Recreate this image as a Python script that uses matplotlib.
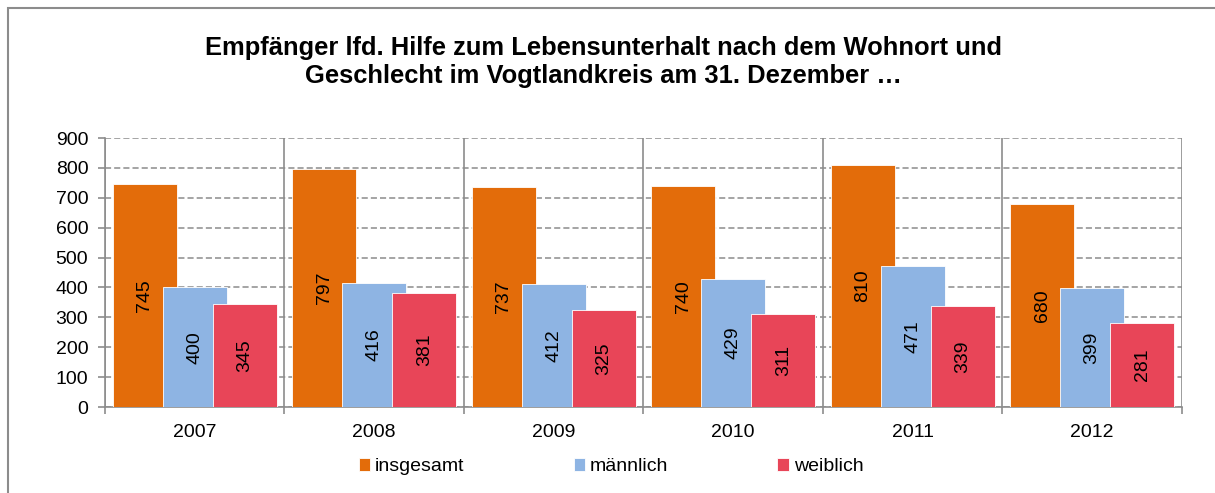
import numpy as np
import matplotlib.pyplot as plt
from matplotlib.patches import Rectangle

plt.rcParams['font.family'] = ['Liberation Sans', 'DejaVu Sans']

years = ['2007', '2008', '2009', '2010', '2011', '2012']
insgesamt = [745, 797, 737, 740, 810, 680]
maennlich = [400, 416, 412, 429, 471, 399]
weiblich = [345, 381, 325, 311, 339, 281]
series_names = ['insgesamt', 'männlich', 'weiblich']
colors = ['#E36C0A', '#8EB4E3', '#E84558']

fig = plt.figure(figsize=(12.15, 4.93), dpi=100)
ax = fig.add_axes([0.0864, 0.1744, 0.8864, 0.5456])

x = np.arange(len(years))
width = 0.357
offset = 0.279
gray = '#8c8c8c'

for i, (vals, name, c) in enumerate(zip([insgesamt, maennlich, weiblich], series_names, colors)):
    pos = x + (i - 1) * offset
    ax.bar(pos, vals, width, color=c, edgecolor='white', linewidth=0.6,
           label=name, zorder=3 + i)
    for p, v in zip(pos, vals):
        ax.text(p, v / 2, str(v), rotation=90, ha='center', va='center',
                fontsize=14, color='black', zorder=10)

ax.set_xlim(-0.5, len(years) - 0.5)
ax.set_ylim(0, 900)
ax.set_yticks(range(0, 901, 100))
ax.set_xticks(x)
ax.set_xticklabels(years)
ax.set_xticks(np.arange(-0.5, len(years)), minor=True)
ax.tick_params(axis='x', which='major', length=0, pad=12, labelsize=14)
ax.tick_params(axis='x', which='minor', length=5, color=gray, width=1.2, direction='out')
ax.tick_params(axis='y', length=5, color=gray, width=1.2, labelsize=14, pad=7)

ax.yaxis.grid(True, linestyle=(0, (4, 2)), color=gray, linewidth=1.1, zorder=0)
ax.xaxis.grid(True, which='minor', color=gray, linewidth=1.2, zorder=0)
ax.set_axisbelow(True)
for s in ['top', 'right']:
    ax.spines[s].set_visible(False)
for s in ['left', 'bottom']:
    ax.spines[s].set_color(gray)
    ax.spines[s].set_linewidth(1.2)

fig.text(0.497, 0.874, 'Empfänger lfd. Hilfe zum Lebensunterhalt nach dem Wohnort und\n'
         'Geschlecht im Vogtlandkreis am 31. Dezember …',
         ha='center', va='center', fontsize=18.4, fontweight='bold', linespacing=1.2)

handles, labels = ax.get_legend_handles_labels()
leg = fig.legend(handles, labels, loc='center', bbox_to_anchor=(0.503, 0.053), ncol=3,
                 frameon=False, prop={'size': 14},
                 handlelength=0.6, handleheight=0.6,
                 handletextpad=0.25, columnspacing=5.6)

fig.patches.append(Rectangle((8 / 1215, -0.1), 1.2, (493 - 8) / 493 + 0.1,
                             transform=fig.transFigure, fill=False,
                             edgecolor=gray, linewidth=1.5))

fig.savefig('out.png', dpi=100)
